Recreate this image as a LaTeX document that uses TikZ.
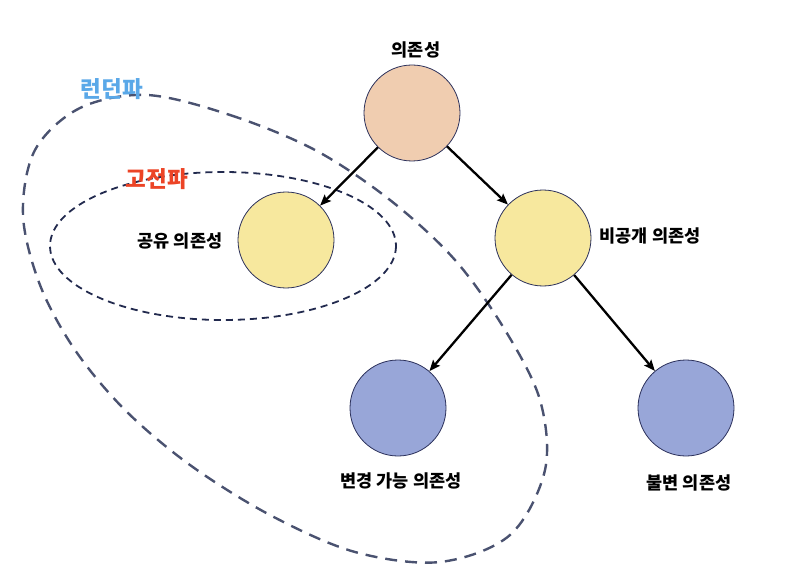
\documentclass[tikz,border=0pt]{standalone}
\usepackage{fontspec}
\newfontfamily\kr{Noto Sans CJK KR}
\usetikzlibrary{arrows.meta}
\definecolor{peach}{HTML}{F0CDB0}
\definecolor{pale}{HTML}{F7E89E}
\definecolor{lav}{HTML}{98A6D8}
\definecolor{rim}{HTML}{2A2F5A}
\definecolor{londonc}{HTML}{4A5270}
\definecolor{classicc}{HTML}{222A4E}
\definecolor{bluet}{HTML}{5AA8E8}
\definecolor{redt}{HTML}{EC4426}
\tikzset{
  dep/.style={circle, draw=rim, line width=0.8pt, minimum size=96pt, inner sep=0pt},
  lbl/.style={font=\kr\bfseries\fontsize{17.5}{20}\selectfont, inner sep=0pt},
  grp/.style={font=\kr\bfseries\fontsize{22.5}{26}\selectfont, inner sep=0pt},
  arr/.style={line width=2.3pt, -{Stealth[length=11pt,width=9pt,inset=2pt]}},
  londonline/.style={draw=londonc, line width=2.4pt, dash pattern=on 12pt off 8pt},
  classicline/.style={draw=classicc, line width=1.8pt, dash pattern=on 7pt off 5pt}
}
\begin{document}
\begin{tikzpicture}[x=1pt,y=-1pt]
\useasboundingbox (0,0) rectangle (795,580);
% London school boundary
\draw[londonline] plot[smooth cycle, tension=0.55] coordinates {
 (147,95) (230,115) (315,150) (390,200) (455,260) (505,330) (540,400) (545,470)
 (510,535) (440,562) (355,552) (270,515) (190,465) (125,410) (75,350) (40,285)
 (23,215) (35,150) (80,108)};
% classic school boundary
\draw[classicline] (223,246) ellipse [x radius=173, y radius=74];
% nodes
\node[dep, fill=peach] (root) at (412,113) {};
\node[dep, fill=pale] (shared) at (286,240) {};
\node[dep, fill=pale] (private) at (543,238) {};
\node[dep, fill=lav] (mutable) at (398,408) {};
\node[dep, fill=lav] (immutable) at (686,408) {};
% labels
\node[lbl] (lroot) at (416,50) {의존성};
\node[lbl] (lshared) at (180,241) {공유 의존성};
\node[lbl] (lprivate) at (650,236) {비공개 의존성};
\node[lbl] (lmutable) at (401,481) {변경 가능 의존성};
\node[lbl] (limmutable) at (689,483) {불변 의존성};
\node[grp, text=bluet] (london) at (112,89) {런던파};
\node[grp, text=redt] (classic) at (157,179) {고전파};
% arrows
\draw[arr] (root) -- (shared);
\draw[arr] (root) -- (private);
\draw[arr] (private) -- (mutable);
\draw[arr] (private) -- (immutable);
\end{tikzpicture}
\end{document}
